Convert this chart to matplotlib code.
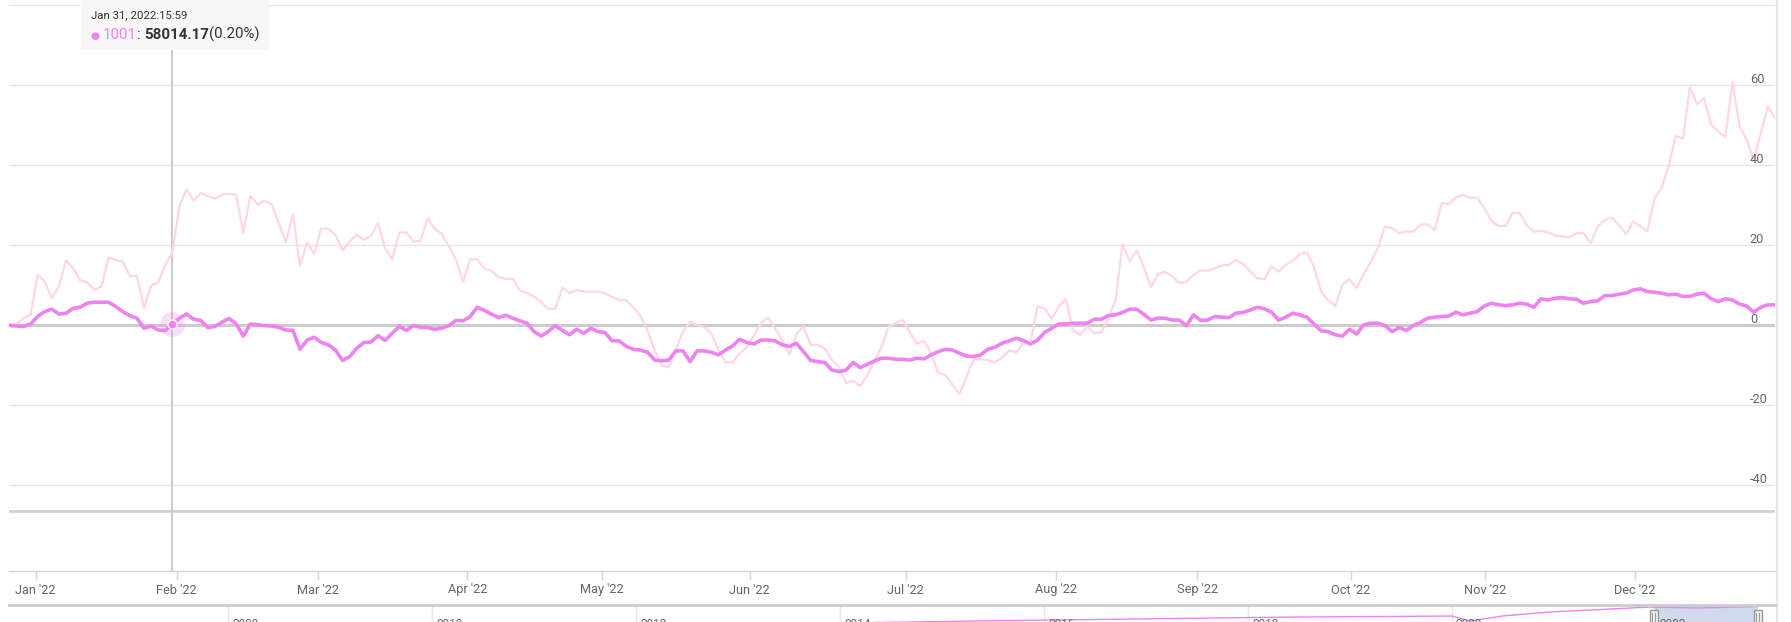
import numpy as np
import matplotlib.pyplot as plt
import matplotlib.transforms as mtransforms
from matplotlib.patches import Rectangle
from matplotlib.lines import Line2D

plt.rcParams["font.family"] = ["Roboto", "DejaVu Sans"]

# ---- data (percent change vs first point, one value per trading day) ----
pink_pct = [
    0, 0.3, 1.75, 2.6, 12.6, 10.9, 6.75, 9.7, 16.2, 14.25,
    11.2, 10.7, 8.8, 9.7, 16.9, 16.3, 15.9, 12.3, 12.3, 4.3,
    9.9, 10.7, 15.1, 18.2, 29.8, 34.0, 31.1, 33.0, 32.3, 31.6,
    32.6, 32.8, 32.6, 23.0, 32.3, 30.1, 31.1, 30.25, 25.5, 20.7,
    27.8, 14.9, 20.7, 17.8, 24.25, 24.1, 22.6, 18.7, 20.9, 22.6,
    21.3, 22.3, 25.5, 19.25, 16.5, 23.2, 23.2, 20.9, 21.1, 26.75,
    24.0, 22.8, 19.7, 16.3, 10.9, 16.5, 16.5, 14.1, 13.6, 12.0,
    11.6, 11.6, 8.7, 8.0, 7.2, 5.75, 4.1, 4.1, 9.4, 8.0,
    8.8, 8.4, 8.4, 8.4, 8.0, 7.0, 6.3, 6.2, 4.5, 2.3,
    -1.3, -6.2, -10.1, -10.5, -6.2, -1.6, 0.9, 0.1, -0.5, -2.0,
    -6.2, -9.3, -9.3, -7.0, -5.5, -2.5, 0.5, 1.9, -0.75, -3.7,
    -7.4, -2.2, -0.3, -4.9, -4.9, -5.75, -8.7, -10.3, -14.5, -13.9,
    -15.2, -12.4, -9.1, -5.3, -0.3, 0.5, 1.3, -1.8, -4.7, -3.9,
    -7.0, -12.0, -12.4, -14.9, -17.2, -12.8, -8.5, -8.5, -8.7, -9.3,
    -8.1, -6.3, -6.8, -4.5, -4.5, 4.7, 4.25, 1.6, 4.7, 6.5,
    -1.3, -2.4, -0.3, -2.0, -1.8, 1.75, 6.3, 20.3, 15.9, 18.7,
    14.5, 9.5, 12.8, 13.4, 12.2, 10.5, 10.9, 12.6, 13.7, 13.6,
    14.25, 14.9, 15.1, 16.3, 15.3, 13.4, 11.75, 11.5, 14.7, 13.4,
    15.1, 16.1, 17.75, 18.2, 14.5, 8.4, 6.2, 4.8, 10.1, 11.5,
    9.25, 12.8, 15.9, 19.25, 24.7, 24.25, 23.0, 23.4, 23.4, 25.1,
    25.25, 23.8, 30.5, 30.3, 31.9, 32.6, 31.75, 31.9, 29.25, 26.1,
    24.8, 24.8, 28.0, 28.0, 24.9, 23.4, 23.6, 23.25, 22.4, 22.2,
    22.0, 23.0, 23.0, 20.5, 24.7, 26.3, 26.9, 24.9, 22.8, 25.9,
    24.8, 23.4, 31.75, 34.25, 39.7, 47.3, 46.6, 59.4, 55.25, 56.75,
    50.1, 48.4, 47.0, 60.7, 49.8, 46.3, 41.3, 48.0, 54.7, 51.75,
]
violet_pct = [
    0, -0.2, -0.3, 0.3, 2.2, 3.4, 4.0, 2.8, 3.0, 4.2,
    4.5, 5.5, 5.75, 5.75, 5.75, 4.7, 3.4, 2.4, 1.75, -0.75,
    -0.2, -1.2, -1.3, 0.2, 1.75, 2.8, 1.5, 1.2, -0.6, -0.3,
    0.75, 1.7, 0.3, -2.7, 0.3, 0.1, -0.1, -0.2, -0.5, -1.2,
    -1.3, -6.0, -3.7, -3.0, -4.3, -4.9, -6.2, -8.8, -7.8, -5.75,
    -4.3, -4.2, -2.6, -3.8, -2.0, -0.3, -1.3, -0.1, -0.5, -0.6,
    -1.0, -0.75, -0.1, 1.2, 1.1, 2.2, 4.5, 3.7, 2.75, 1.9,
    2.5, 1.75, 1.1, 0.5, -1.6, -2.7, -1.6, -0.1, -1.3, -2.4,
    -1.0, -2.0, -0.75, -1.6, -1.8, -3.9, -3.9, -5.3, -6.0, -6.2,
    -6.75, -8.7, -8.9, -8.7, -6.4, -6.4, -9.1, -6.4, -6.4,
    -6.75, -7.4, -6.2, -5.2, -3.5, -4.3, -4.7, -3.7, -3.7, -3.9,
    -4.9, -5.3, -4.5, -6.6, -8.8, -9.1, -9.3, -11.2, -11.6, -11.2,
    -9.3, -10.6, -9.75, -8.9, -8.25, -8.25, -8.5, -8.5, -8.7, -8.25,
    -8.4, -7.4, -6.6, -6.0, -6.2, -7.0, -7.7, -7.8, -7.4, -6.0,
    -5.5, -4.5, -3.9, -3.25, -3.8, -4.7, -3.7, -1.8, -0.75, 0.3,
    0.3, 0.5, 0.5, 0.5, 1.5, 1.5, 2.4, 2.6, 3.2, 4.0,
    4.0, 2.75, 1.3, 1.75, 1.75, 1.3, 1.3, -0.1, 2.6, 1.2,
    1.3, 2.2, 2.0, 1.9, 3.0, 3.2, 3.8, 4.5, 4.1, 3.25,
    1.3, 2.0, 3.0, 2.6, 2.0, 0.25, -1.4, -1.6, -2.4, -2.7,
    -1.0, -2.2, 0.1, 0.5, 0.5, -0.1, -1.6, -0.6, -1.3,
    -0.1, 0.7, 1.75, 2.0, 2.2, 2.3, 3.25, 2.6, 3.0, 3.4,
    4.8, 5.5, 5.1, 4.9, 5.1, 5.5, 5.25, 4.5, 6.6, 6.3,
    6.75, 6.9, 6.6, 6.5, 5.5, 5.9, 6.1, 7.4, 7.4, 7.75,
    8.0, 8.8, 9.1, 8.4, 8.25, 8.0, 7.6, 7.75, 7.2, 7.2,
    7.75, 8.0, 6.6, 5.9, 6.6, 6.3, 5.3, 4.8, 3.25, 4.5,
    5.1, 5.1,
]
month_labels = ["Jan '22", "Feb '22", "Mar '22", "Apr '22", "May '22", "Jun '22",
                "Jul '22", "Aug '22", "Sep '22", "Oct '22", "Nov '22", "Dec '22"]
month_pos = [3.7, 23.6, 43.5, 64.6, 83.6, 104.4, 126.4, 147.6, 167.5, 189.2, 208.1, 229.2]
y_ticks = [-40, -20, 0, 20, 40, 60, 80]
pane_bottom = -46.4

tooltip_idx = 23
tooltip_date = "Jan 31, 2022:15:59"
tooltip_name = "1001"
tooltip_price = "58014.17"
tooltip_change = "(0.20%)"

# navigator (full history)
nav_years = [2005.9, 2008.0, 2010.0, 2012.0, 2013.5, 2014.7, 2015.5, 2016.9, 2017.8,
             2018.5, 2019.3, 2020.0, 2020.18, 2020.5, 2020.96, 2021.5, 2021.94, 2022.43, 2023.0]
nav_level = [20000, 28000, 33000, 38000, 42500, 44150, 45500, 47300, 48600,
             49400, 49900, 50450, 45200, 50500, 54650, 57500, 59900, 58850, 60425]
nav_year_ticks = [2008, 2010, 2012, 2014, 2016, 2018, 2020, 2022]
nav_window = (2021.98, 2023.0)

VIOLET = "#ee82ee"
PINK = "#ffd6e9"
W, H = 1791, 622

fig = plt.figure(figsize=(W / 100, H / 100), dpi=100)


def px_box(x0, y0, x1, y1):
    return [x0 / W, 1 - y1 / H, (x1 - x0) / W, (y1 - y0) / H]


ax = fig.add_axes(px_box(9.3, 5, 1775, 571))
x = np.arange(len(violet_pct))
ax.set_xlim(0, len(x) - 1)
ax.set_ylim(-61.4, 80)

ax.set_yticks(y_ticks)
ax.tick_params(axis="y", length=0, labelleft=False, labelright=False)
ax.grid(axis="y", color="#e6e6e6", lw=1)
ax.set_axisbelow(True)
for s in ["top", "left", "right"]:
    ax.spines[s].set_visible(False)
ax.spines["bottom"].set_color("#ccd6eb")
ax.spines["bottom"].set_linewidth(1)

ax.set_xticks(month_pos, month_labels)
ax.tick_params(axis="x", length=6.5, width=1, color="#ccd6eb", labelsize=9.2,
               labelcolor="#666666", pad=2.5)

ax.axhline(0, color="#cccccc", lw=2.2, zorder=1.5)
ax.axhline(pane_bottom, color="#cccccc", lw=1.8, zorder=1.5)

ax.plot(x, pink_pct, color=PINK, lw=1.6, zorder=2)
ax.plot(x, violet_pct, color=VIOLET, lw=2.6, zorder=3, solid_joinstyle="round")

# crosshair + hovered point
ax.axvline(tooltip_idx, color="#cccccc", lw=1.5, zorder=1.8)
ax.plot(tooltip_idx, violet_pct[tooltip_idx], "o", ms=18, color=VIOLET, alpha=0.25,
        mec="none", zorder=4)
ax.plot(tooltip_idx, violet_pct[tooltip_idx], "o", ms=6.5, mfc=VIOLET, mec="white",
        mew=1, zorder=5)

# y labels inside the plot on the right, sitting on their gridlines
lab_trans = mtransforms.offset_copy(
    mtransforms.blended_transform_factory(ax.transAxes, ax.transData),
    fig=fig, y=2.5, units="dots")
for v in y_ticks[:-1]:
    ax.text(0.9858, v, str(v), transform=lab_trans, ha="left", va="baseline",
            fontsize=9.2, color="#666666")

# right border
fig.add_artist(Line2D([1776.5 / W] * 2, [0, 1], color="#e6e6e6", lw=1.5))

# ---- navigator ----
nav = fig.add_axes(px_box(9.3, 605, 1775, 645))
nav.set_xlim(2005.85, 2023.17)
nav.set_ylim(min(nav_level), max(nav_level) + 1600)
nav.axis("off")
for yr in nav_year_ticks:
    nav.axvline(yr, color="#e6e6e6", lw=1, zorder=0)
    nav.annotate(str(yr), (yr, 1), xycoords=("data", "axes fraction"),
                 xytext=(4, -13), textcoords="offset pixels", ha="left", va="top",
                 fontsize=8.5, color="#666666", annotation_clip=False)
nav.plot(nav_years, nav_level, color=VIOLET, lw=1, zorder=2)
nav.axvspan(nav_window[0], nav_window[1], color="#6685c2", alpha=0.3, lw=0, zorder=1)
fig.add_artist(Line2D([9.3 / W, 1775 / W], [1 - 605 / H] * 2, color="#cccccc", lw=2))
for yr in nav_window:
    xd = nav.transData.transform((yr, 0))[0]
    fig.add_artist(Rectangle(((xd - 4) / W, 1 - 626 / H), 8 / W, 16 / H,
                             facecolor="#f2f2f2", edgecolor="#999999", lw=1))
    for dx in (-1.3, 1.3):
        fig.add_artist(Line2D([(xd + dx) / W] * 2, [1 - 623 / H, 1 - 613 / H],
                              color="#999999", lw=0.8))

# ---- tooltip ----
fig.add_artist(Rectangle((81 / W, 1 - 50 / H), 188 / W, 50 / H,
                         facecolor="#f7f7f7", edgecolor="none", zorder=10))
fig.text(91 / W, 1 - 15 / H, tooltip_date, fontsize=8.2, color="#333333",
         va="center", ha="left", zorder=11)

renderer = fig.canvas.get_renderer()
cur = 91
pieces = [("\u25cf ", VIOLET, "normal", 7.5), (tooltip_name, VIOLET, "normal", 10.8),
          (": ", "#333333", "normal", 10.8), (tooltip_price, "#333333", "bold", 10.8),
          (tooltip_change, "#333333", "normal", 10.8)]
for txt, col, wt, fs in pieces:
    t = fig.text(cur / W, 1 - 39 / H, txt, fontsize=fs, color=col, fontweight=wt,
                 va="baseline", ha="left", zorder=11)
    cur = t.get_window_extent(renderer).x1

fig.savefig("out.png", dpi=100)
